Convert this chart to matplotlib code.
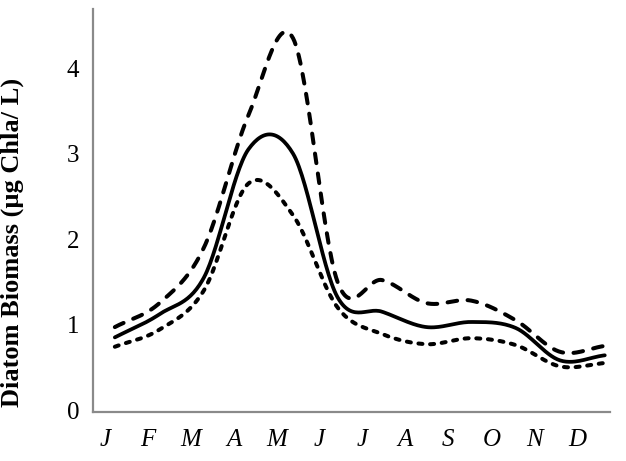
import numpy as np
import matplotlib.pyplot as plt

# monthly diatom biomass (ug Chla / L)
months = ['J', 'F', 'M', 'A', 'M', 'J', 'J', 'A', 'S', 'O', 'N', 'D']
mean_vals = [0.85, 1.12, 1.55, 3.05, 3.0, 1.32, 1.15, 0.97, 1.03, 0.96, 0.58, 0.64]
upper_vals = [0.97, 1.25, 1.90, 3.45, 4.35, 1.50, 1.52, 1.25, 1.28, 1.05, 0.68, 0.75]
lower_vals = [0.74, 0.94, 1.40, 2.65, 2.28, 1.20, 0.89, 0.77, 0.84, 0.76, 0.51, 0.55]


def smooth(y, n=30):
    # Catmull-Rom curve through the monthly points (like a smoothed line chart)
    y = np.asarray(y, float)
    p = np.concatenate([[2*y[0]-y[1]], y, [2*y[-1]-y[-2]]])
    xs, ys = [], []
    for i in range(len(y)-1):
        t = np.linspace(0, 1, n, endpoint=False)
        m0 = (p[i+2]-p[i])/2
        m1 = (p[i+3]-p[i+1])/2
        h00 = 2*t**3-3*t**2+1
        h01 = -2*t**3+3*t**2
        h10 = t**3-2*t**2+t
        h11 = t**3-t**2
        xs.append(i+t)
        ys.append(h00*p[i+1]+h01*p[i+2]+h10*m0+h11*m1)
    xs.append([len(y)-1])
    ys.append([y[-1]])
    return np.concatenate(xs), np.concatenate(ys)


fig = plt.figure(figsize=(6.26, 4.61), dpi=100)
ax = fig.add_axes([0.1486, 0.1063, 0.826, 0.874])

x, y = smooth(upper_vals)
ax.plot(x, y, color='black', lw=2.9, dashes=(2.4, 2.6), dash_capstyle='round')
x, y = smooth(mean_vals)
ax.plot(x, y, color='black', lw=2.7, solid_capstyle='round')
x, y = smooth(lower_vals)
ax.plot(x, y, color='black', lw=2.9, dashes=(1.0, 1.9), dash_capstyle='round')

ax.set_xlim(-0.49, 11.12)
ax.set_ylim(-0.023, 4.69)
ax.set_yticks([0, 1, 2, 3, 4])
ax.set_yticklabels(['0', '1', '2', '3', '4'], fontfamily='Liberation Serif', fontsize=18)
ax.set_xticks(np.linspace(-0.22, 10.38, 12))
ax.set_xticklabels(months, fontfamily='Liberation Serif', fontstyle='italic', fontsize=18)
ax.tick_params(length=0)
ax.tick_params(axis='y', pad=10)
ax.tick_params(axis='x', pad=12)
ax.set_ylabel('Diatom Biomass (µg Chla/ L)', fontfamily='Liberation Serif',
              fontweight='bold', fontsize=19)
ax.yaxis.set_label_coords(-0.133, 0.42)

for s in ['top', 'right']:
    ax.spines[s].set_visible(False)
for s in ['left', 'bottom']:
    ax.spines[s].set_color('#8a8a8a')
    ax.spines[s].set_linewidth(1.6)

plt.savefig('out.png', dpi=100)
